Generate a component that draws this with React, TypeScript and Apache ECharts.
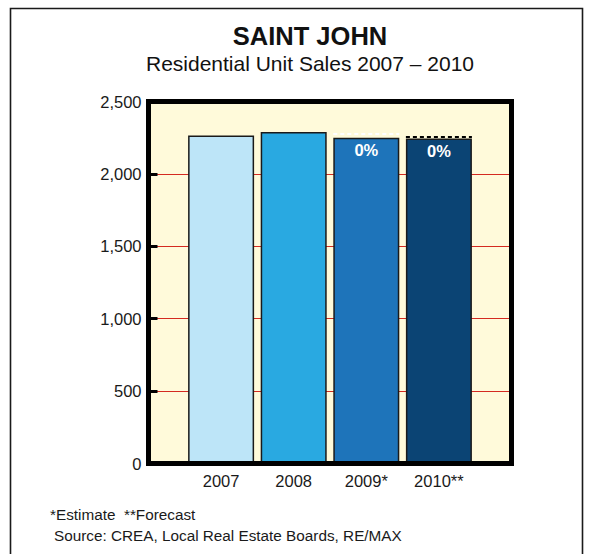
import React, { useEffect, useRef } from "react";
import * as echarts from "echarts";

const titleText = "SAINT JOHN";
const subtitleText = "Residential Unit Sales 2007 \u2013 2010";
const years = ["2007", "2008", "2009*", "2010**"];
const sales = [2265, 2290, 2250, 2245];
const barColors = ["#BDE5F8", "#29A9E1", "#1E74BA", "#0B4474"];
const changeLabels = ["", "", "0%", "0%"];
const dashValues = [null, null, 2275, 2255];
const dashColors = ["#ffffff", "#ffffff", "#ffffff", "#000000"];
const yTicks = [0, 500, 1000, 1500, 2000, 2500];
const footnote1 = "*Estimate  **Forecast";
const footnote2 = "Source: CREA, Local Real Estate Boards, RE/MAX";

const FONT = "'Liberation Sans', Arial, Helvetica, sans-serif";

export default function App() {
  const ref = useRef<HTMLDivElement>(null);
  useEffect(() => {
    if (!ref.current) return;
    const chart = echarts.init(ref.current, null, { renderer: "svg" });
    const W = 593;
    const H = 554;
    const gl = 148.5, gr = 81.5, gt = 101.5, gb = 90.5;
    const cats = ["", ...years, ""];
    const barData: any[] = [null];
    sales.forEach((v, i) => {
      barData.push({
        value: v,
        itemStyle: { color: barColors[i] },
        label: {
          show: changeLabels[i] !== "",
          formatter: changeLabels[i],
        },
      });
    });
    barData.push(null);
    const dashData: any[] = [];
    dashValues.forEach((v, i) => {
      if (v !== null) dashData.push({ value: [i + 1, v], itemStyle: { color: dashColors[i] } });
    });

    chart.setOption({
      animation: false,
      backgroundColor: "#ffffff",
      textStyle: { fontFamily: FONT },
      grid: {
        left: gl,
        right: gr,
        top: gt,
        bottom: gb,
        show: true,
        backgroundColor: "#FFFADA",
        borderWidth: 0,
      },
      xAxis: {
        type: "category",
        data: cats,
        boundaryGap: false,
        axisLine: { show: false },
        axisTick: { show: false },
        axisLabel: { color: "#1a1a1a", fontSize: 16.5, margin: 9, fontFamily: FONT, interval: 0 },
        splitLine: { show: false },
      },
      yAxis: {
        type: "value",
        min: yTicks[0],
        max: yTicks[yTicks.length - 1],
        interval: 500,
        axisLine: { show: false },
        axisTick: { show: true, inside: true, length: 9, lineStyle: { color: "#000", width: 3 } },
        axisLabel: {
          color: "#1a1a1a",
          fontSize: 16.5,
          margin: 7,
          fontFamily: FONT,
          formatter: (v: number) => v.toLocaleString("en-US"),
        },
        splitLine: { show: true, lineStyle: { color: "#D42A20", width: 1 } },
      },
      series: [
        {
          type: "bar",
          data: barData,
          barWidth: 66,
          itemStyle: { borderColor: "#1a1a1a", borderWidth: 1.5 },
          label: {
            position: "insideTop",
            distance: 4,
            color: "#ffffff",
            fontWeight: "bold",
            fontSize: 16.5,
            fontFamily: FONT,
          },
        },
        {
          type: "custom",
          data: dashData,
          z: 5,
          renderItem: (params: any, api: any) => {
            const p = api.coord([api.value(0), api.value(1)]);
            const color = api.visual("color");
            return {
              type: "line",
              shape: { x1: p[0] - 33, y1: p[1], x2: p[0] + 33, y2: p[1] },
              style: { stroke: color, lineWidth: 2, lineDash: [4, 3] },
            };
          },
        },
      ],
      graphic: [
        {
          type: "rect",
          z: 100,
          shape: { x: gl, y: gt, width: W - gl - gr, height: H - gt - gb },
          style: { fill: "none", stroke: "#000", lineWidth: 5 },
        },
        {
          type: "rect",
          z: 100,
          shape: { x: 10.5, y: 8.5, width: 572, height: 560 },
          style: { fill: "none", stroke: "#1a1a1a", lineWidth: 1.6 },
        },
        {
          type: "text",
          x: 310,
          y: 36,
          style: {
            text: titleText,
            textAlign: "center",
            textVerticalAlign: "middle",
            font: `bold 25.5px ${FONT}`,
            fill: "#111",
          },
        },
        {
          type: "text",
          x: 310,
          y: 63,
          style: {
            text: subtitleText,
            textAlign: "center",
            textVerticalAlign: "middle",
            font: `21px ${FONT}`,
            fill: "#111",
          },
        },
        {
          type: "text",
          x: 50,
          y: 514,
          style: {
            text: footnote1,
            textAlign: "left",
            textVerticalAlign: "middle",
            font: `15.3px ${FONT}`,
            fill: "#1a1a1a",
          },
        },
        {
          type: "text",
          x: 54,
          y: 535,
          style: {
            text: footnote2,
            textAlign: "left",
            textVerticalAlign: "middle",
            font: `15.3px ${FONT}`,
            fill: "#1a1a1a",
          },
        },
      ],
    });
    return () => chart.dispose();
  }, []);
  return (
    <div
      ref={ref}
      style={{ position: "fixed", left: 0, top: 0, width: 593, height: 554 }}
    />
  );
}
